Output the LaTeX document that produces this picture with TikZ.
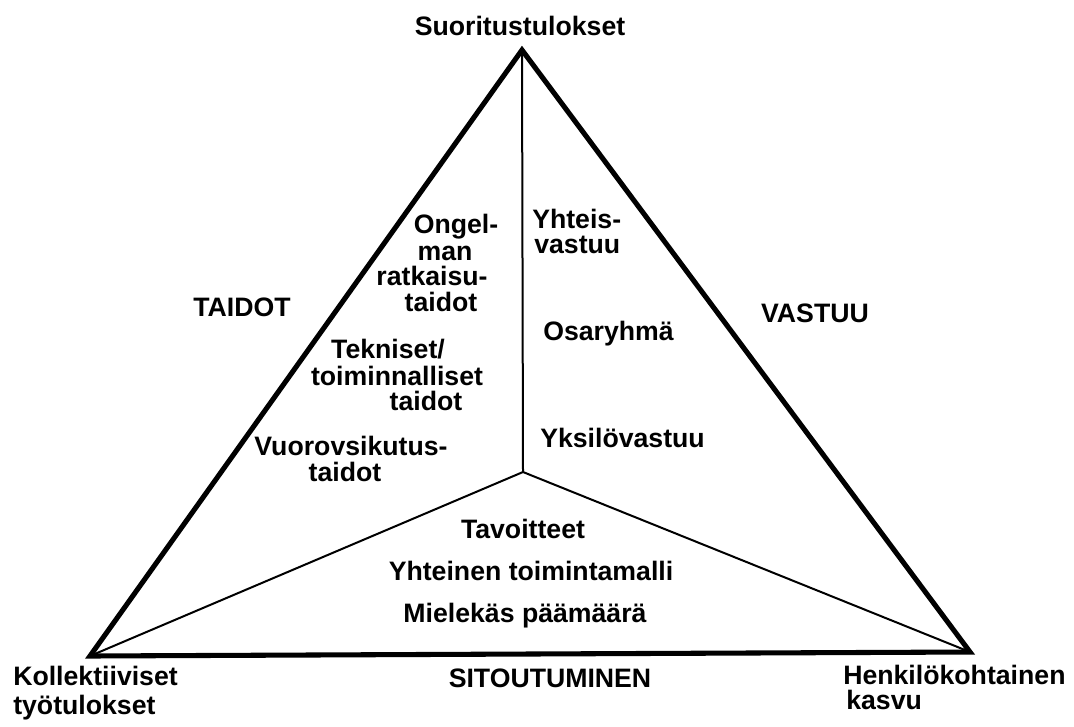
\documentclass[tikz,border=0pt]{standalone}
\usepackage{fontspec}
\setmainfont{Liberation Sans}
\begin{document}
\begin{tikzpicture}[x=0.75pt,y=-0.75pt,
  lbl/.style={inner sep=0pt,font=\fontsize{20}{24}\selectfont\bfseries},
  outer/.style={line width=3.8pt,line join=miter},
  inner/.style={line width=1.5pt}]
\useasboundingbox (0,0) rectangle (1074,726);
\coordinate (A) at (522,50);
\coordinate (B) at (90,656);
\coordinate (C) at (970,652);
\coordinate (O) at (523,472);
\draw[outer] (A) -- (B) -- (C) -- cycle;
\draw[inner] (O) -- (A);
\draw[inner] (O) -- (B);
\draw[inner] (O) -- (C);
% corner labels
\node[lbl,anchor=base] (top) at (520,35) {Suoritustulokset};
\node[lbl,anchor=base west] (bl1) at (13,685) {Kollektiiviset};
\node[lbl,anchor=base west] (bl2) at (13,714) {työtulokset};
\node[lbl,anchor=base west] (br1) at (843,684) {Henkilökohtainen};
\node[lbl,anchor=base west] (br2) at (846,709) {kasvu};
% side labels
\node[lbl,anchor=base] (taidot) at (242,316) {TAIDOT};
\node[lbl,anchor=base] (vastuu) at (815,322) {VASTUU};
\node[lbl,anchor=base] (sitout) at (550,687) {SITOUTUMINEN};
% left inner
\node[lbl,anchor=base] (l1) at (456,233) {Ongel-};
\node[lbl,anchor=base] (l2) at (445,260) {man};
\node[lbl,anchor=base] (l3) at (432,285) {ratkaisu-};
\node[lbl,anchor=base] (l4) at (441,311) {taidot};
\node[lbl,anchor=base] (l5) at (388,358) {Tekniset/};
\node[lbl,anchor=base] (l6) at (397,385) {toiminnalliset};
\node[lbl,anchor=base] (l7) at (426,410) {taidot};
\node[lbl,anchor=base] (l8) at (351,455) {Vuorovsikutus-};
\node[lbl,anchor=base] (l9) at (345,481) {taidot};
% right inner
\node[lbl,anchor=base west] (r1) at (532,228) {Yhteis-};
\node[lbl,anchor=base west] (r2) at (534,253) {vastuu};
\node[lbl,anchor=base west] (r3) at (543,340) {Osaryhmä};
\node[lbl,anchor=base west] (r4) at (540,447) {Yksilövastuu};
% bottom inner
\node[lbl,anchor=base] (b1) at (523,538) {Tavoitteet};
\node[lbl,anchor=base] (b2) at (531,580) {Yhteinen toimintamalli};
\node[lbl,anchor=base] (b3) at (525,622) {Mielekäs päämäärä};
\end{tikzpicture}
\end{document}
